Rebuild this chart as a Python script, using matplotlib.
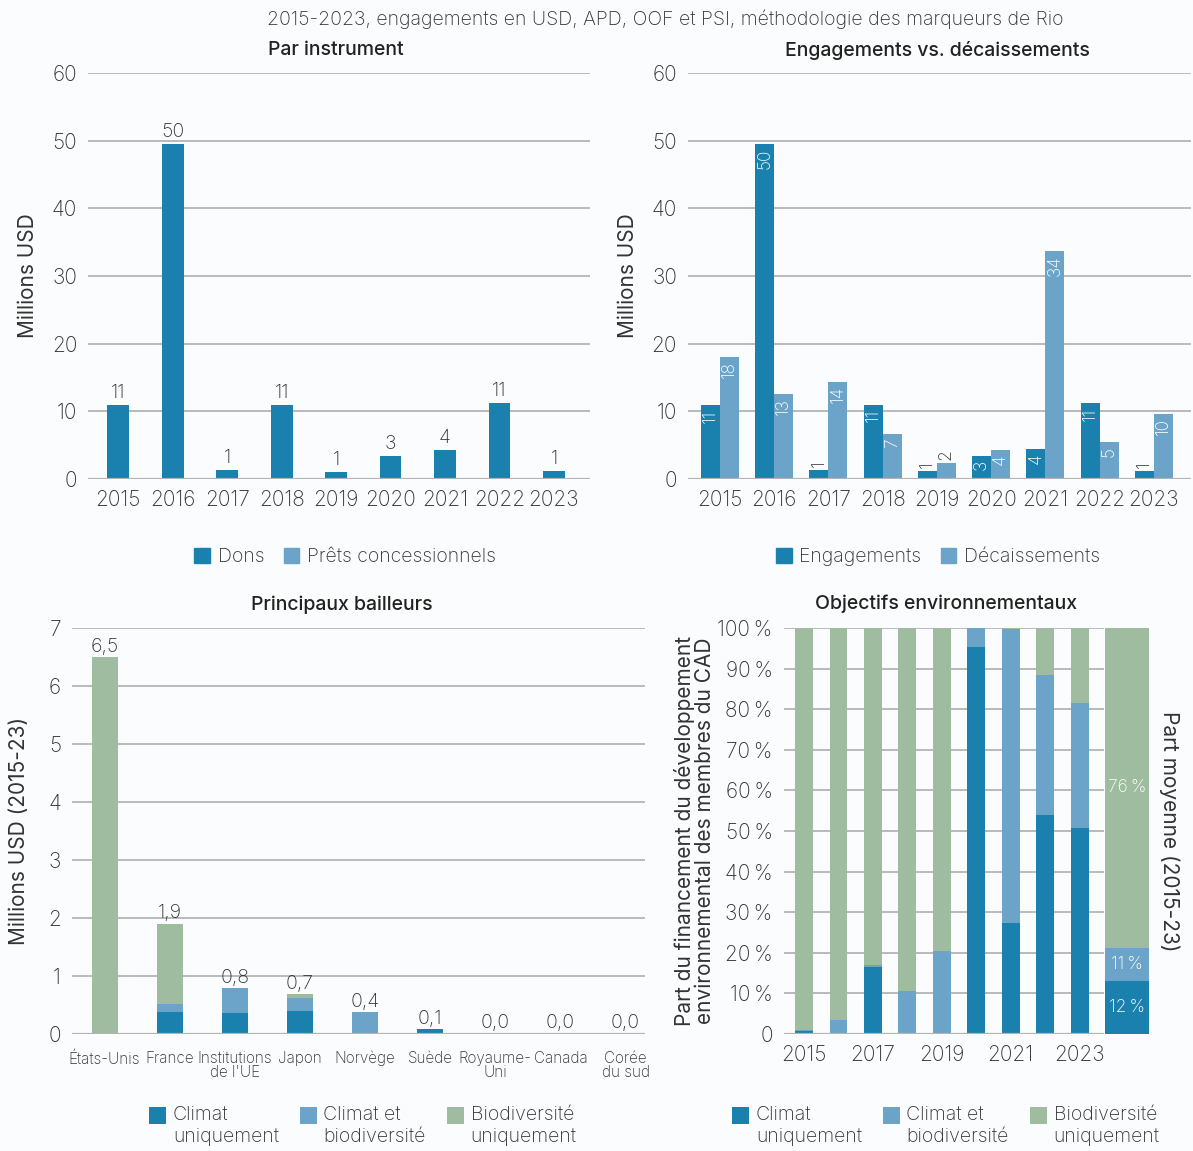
import numpy as np
import matplotlib
matplotlib.use('Agg')
import matplotlib.pyplot as plt
from matplotlib.patches import Patch, Rectangle
from matplotlib.legend_handler import HandlerPatch

plt.rcParams['font.family'] = ['Inter', 'DejaVu Sans']
plt.rcParams['font.weight'] = 'light'

# --- data ---
years = ['2015', '2016', '2017', '2018', '2019', '2020', '2021', '2022', '2023']
dons = [10.9, 49.5, 1.4, 11.0, 1.1, 3.4, 4.3, 11.2, 1.2]
prets = [0, 0, 0, 0, 0, 0, 0, 0, 0]
engagements = [10.9, 49.5, 1.4, 11.0, 1.2, 3.4, 4.4, 11.2, 1.2]
decaissements = [18.0, 12.6, 14.4, 6.7, 2.4, 4.3, 33.7, 5.4, 9.6]

donors = ['États-Unis', 'France', 'Institutions\nde l\'UE', 'Japon', 'Norvège', 'Suède',
          'Royaume-\nUni', 'Canada', 'Corée\ndu sud']
don_climat = [0.0, 0.38, 0.36, 0.40, 0.0, 0.086, 0.0, 0.01, 0.01]
don_both = [0.0, 0.14, 0.43, 0.22, 0.38, 0.0, 0.0, 0.0, 0.0]
don_bio = [6.5, 1.38, 0.0, 0.07, 0.0, 0.0, 0.02, 0.0, 0.0]

obj_climat = [0.8, 0.0, 16.6, 0.0, 0.0, 95.4, 27.4, 54.0, 50.8]
obj_both = [0.3, 3.5, 0.5, 10.6, 20.5, 4.6, 72.4, 34.5, 30.8]
obj_bio = [98.9, 96.5, 82.9, 89.4, 79.5, 0.0, 0.2, 11.5, 18.4]
avg_vals = [13.1, 8.1, 78.8]
avg_labels = ['12\u2009%', '11\u2009%', '76\u2009%']

C_DARK = '#1a80ae'
C_LIGHT = '#6ba4c8'
C_GREEN = '#9fbba0'
GRID = '#b4b4b4'
TXT = '#333333'
BG = '#fbfcfd'

fig = plt.figure(figsize=(11.93, 11.51), dpi=100, facecolor=BG)


class TopSquare(HandlerPatch):
    # square aligned with the first line of a two-line label
    def create_artists(self, legend, orig_handle, xdescent, ydescent, width, height, fontsize, trans):
        s = 0.85 * fontsize
        p = Rectangle((-xdescent, -ydescent + height - s), s, s,
                      facecolor=orig_handle.get_facecolor(), edgecolor='none', transform=trans)
        return [p]


def style_axes(ax):
    ax.set_facecolor(BG)
    for s in ax.spines.values():
        s.set_visible(False)
    ax.yaxis.grid(True, color=GRID, linewidth=1.3)
    ax.set_axisbelow(True)
    ax.tick_params(length=0, labelsize=15, colors=TXT, pad=8)
    ax.axhline(0, color=GRID, linewidth=1.6, zorder=4)


x = np.arange(len(years))
leg_kw = dict(frameon=False, fontsize=14, handlelength=0.8, handleheight=0.8, handletextpad=0.4,
              columnspacing=1.0, labelcolor=TXT)

# --- panel 1 ---
ax1 = fig.add_axes([0.074, 0.5838, 0.4205, 0.3528])
style_axes(ax1)
ax1.bar(x, dons, width=0.4, color=C_DARK, zorder=2)
ax1.bar(x, prets, width=0.4, bottom=dons, color=C_LIGHT, zorder=2)
for xi, v in zip(x, dons):
    ax1.annotate(f'{v:.0f}', (xi, v), xytext=(0, 2), textcoords='offset points',
                 ha='center', va='bottom', fontsize=14, color=TXT)
ax1.set_xlim(-0.55, 8.66)
ax1.set_ylim(0, 60)
ax1.set_yticks(range(0, 61, 10))
ax1.set_xticks(x)
ax1.set_xticklabels(years)
ax1.set_ylabel('Millions USD', fontsize=15, color=TXT, labelpad=10)
fig.legend(handles=[Patch(color=C_DARK, label='Dons'), Patch(color=C_LIGHT, label='Prêts concessionnels')],
           loc='center', bbox_to_anchor=(345 / 1193, 1 - 557 / 1151), ncol=2, **leg_kw)

# --- panel 2 ---
ax2 = fig.add_axes([0.5767, 0.5838, 0.4213, 0.3528])
style_axes(ax2)
w = 0.35
ax2.bar(x - w / 2, engagements, width=w, color=C_DARK, zorder=2)
ax2.bar(x + w / 2, decaissements, width=w, color=C_LIGHT, zorder=2)
for off, vals in ((-w / 2, engagements), (w / 2, decaissements)):
    for xi, v in zip(x + off, vals):
        if v >= 3:
            ax2.annotate(f'{v:.0f}', (xi, v), xytext=(0, -3), textcoords='offset points',
                         ha='center', va='top', rotation=90, fontsize=12.5, color='white', zorder=5)
        else:
            ax2.annotate(f'{v:.0f}', (xi, v), xytext=(0, 2), textcoords='offset points',
                         ha='center', va='bottom', rotation=90, fontsize=12.5, color=TXT, zorder=5)
ax2.set_xlim(-0.59, 8.68)
ax2.set_ylim(0, 60)
ax2.set_yticks(range(0, 61, 10))
ax2.set_xticks(x)
ax2.set_xticklabels(years)
ax2.set_ylabel('Millions USD', fontsize=15, color=TXT, labelpad=10)
fig.legend(handles=[Patch(color=C_DARK, label='Engagements'), Patch(color=C_LIGHT, label='Décaissements')],
           loc='center', bbox_to_anchor=(938 / 1193, 1 - 557 / 1151), ncol=2, **leg_kw)

# --- panel 3 ---
ax3 = fig.add_axes([0.0604, 0.1016, 0.4803, 0.3528])
style_axes(ax3)
xd = np.arange(len(donors))
b1 = np.array(don_climat)
b2 = np.array(don_both)
b3 = np.array(don_bio)
ax3.bar(xd, b1, width=0.4, color=C_DARK, zorder=2)
ax3.bar(xd, b2, width=0.4, bottom=b1, color=C_LIGHT, zorder=2)
ax3.bar(xd, b3, width=0.4, bottom=b1 + b2, color=C_GREEN, zorder=2)
tot = b1 + b2 + b3
for xi, v in zip(xd, tot):
    ax3.annotate(f'{v:.1f}'.replace('.', ','), (xi, v), xytext=(0, 1), textcoords='offset points',
                 ha='center', va='bottom', fontsize=14, color=TXT)
ax3.set_xlim(-0.5, 8.3)
ax3.set_ylim(0, 7)
ax3.set_yticks(range(0, 8))
ax3.set_xticks(xd)
ax3.set_xticklabels(donors, fontsize=11, linespacing=0.95)
ax3.tick_params(axis='x', pad=12)
ax3.set_ylabel('Millions USD (2015-23)', fontsize=15, color=TXT, labelpad=14)
leg_handles = [Patch(color=C_DARK, label='Climat\nuniquement'),
               Patch(color=C_LIGHT, label='Climat et\nbiodiversité'),
               Patch(color=C_GREEN, label='Biodiversité\nuniquement')]
leg3_kw = dict(leg_kw, handleheight=2.7, columnspacing=1.1, handler_map={Patch: TopSquare()})
for cx in (363, 946):
    leg = fig.legend(handles=leg_handles, loc='center', bbox_to_anchor=(cx / 1193, 1 - 1126 / 1151),
                     ncol=3, **leg3_kw)
    for t in leg.get_texts():
        t.set_linespacing(1.3)

# --- panel 4 ---
ax4 = fig.add_axes([0.657, 0.1016, 0.2684, 0.3528])
style_axes(ax4)
o1 = np.array(obj_climat)
o2 = np.array(obj_both)
o3 = np.array(obj_bio)
ax4.bar(x, o1, width=0.52, color=C_DARK, zorder=2)
ax4.bar(x, o2, width=0.52, bottom=o1, color=C_LIGHT, zorder=2)
ax4.bar(x, o3, width=0.52, bottom=o1 + o2, color=C_GREEN, zorder=2)
ax4.set_xlim(-0.59, 8.71)
ax4.set_ylim(0, 100)
ax4.set_yticks(range(0, 101, 10))
ax4.set_yticklabels(['0'] + [f'{v}\u2009%' for v in range(10, 101, 10)])
ax4.set_xticks(x[::2])
ax4.set_xticklabels(years[::2])
ax4.set_ylabel('Part du financement du développement\nenvironnemental des membres du CAD',
               fontsize=15, color=TXT, labelpad=2, linespacing=1.0)

ax5 = fig.add_axes([0.9262, 0.1016, 0.0370, 0.3528])
ax5.set_facecolor(BG)
for s in ax5.spines.values():
    s.set_visible(False)
bottom = 0
for v, c, lab in zip(avg_vals, [C_DARK, C_LIGHT, C_GREEN], avg_labels):
    ax5.bar(0, v, width=1.0, bottom=bottom, color=c)
    ax5.text(0, bottom + v / 2, lab, ha='center', va='center', fontsize=12.5, color='white')
    bottom += v
ax5.set_xlim(-0.5, 0.5)
ax5.set_ylim(0, 100)
ax5.set_xticks([])
ax5.set_yticks([])
ax5.yaxis.set_label_position('right')
ax5.set_ylabel('Part moyenne (2015-23)', fontsize=15, color=TXT, rotation=270, labelpad=22)

# --- titles ---
fig.text(0.558, 1 - 19 / 1151, '2015-2023, engagements en USD, APD, OOF et PSI, méthodologie des marqueurs de Rio',
         ha='center', va='center', fontsize=14, color=TXT)
for tx, ty, t in ((336, 50, 'Par instrument'), (937, 50, 'Engagements vs. décaissements'),
                  (342, 605, 'Principaux bailleurs'), (946, 604, 'Objectifs environnementaux')):
    fig.text(tx / 1193, 1 - ty / 1151, t, ha='center', va='center', fontsize=14,
             fontweight='medium', color='#222222')

fig.savefig('out.png', dpi=100, facecolor=BG)
